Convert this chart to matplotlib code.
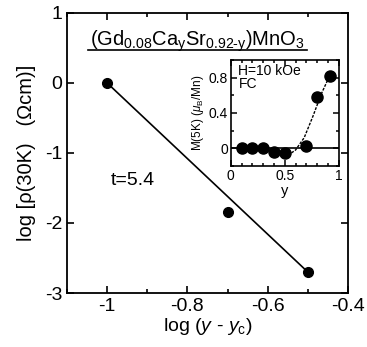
import numpy as np
import matplotlib.pyplot as plt
from matplotlib.ticker import MultipleLocator

plt.rcParams['font.family'] = ['Liberation Sans', 'DejaVu Sans']
plt.rcParams['mathtext.fontset'] = 'custom'
plt.rcParams['mathtext.rm'] = 'Liberation Sans'
plt.rcParams['mathtext.it'] = 'Liberation Sans:italic'

# main panel data
log_dy = [-1.0, -0.7, -0.5]
log_rho = [0.0, -1.85, -2.7]
t_exp = 5.4
fit_x = [-1.0, -0.5]

# inset data
y_conc = [0.1, 0.2, 0.3, 0.4, 0.5, 0.7, 0.8, 0.92]
m5k = [0.0, 0.0, 0.0, -0.04, -0.05, 0.03, 0.58, 0.82]
guide_x = [0.53, 0.6, 0.68, 0.76, 0.84, 0.93]
guide_y = [-0.08, -0.02, 0.12, 0.36, 0.62, 0.86]

fig = plt.figure(figsize=(3.67, 3.47), dpi=100)
ax = fig.add_axes([0.1826, 0.1556, 0.7654, 0.807])

fx = np.array(fit_x)
ax.plot(fx, log_rho[0] - t_exp * (fx - log_dy[0]), color='black', lw=1.2)
ax.plot(log_dy, log_rho, 'o', color='black', ms=7)

ax.set_xlim(-1.1, -0.4)
ax.set_ylim(-3, 1)
ax.xaxis.set_minor_locator(MultipleLocator(0.1))
ax.tick_params(which='both', direction='in', top=True, right=True, labelsize=14, width=1.2)
ax.tick_params(which='major', length=5)
ax.tick_params(which='minor', length=3)
ax.set_xticks([-1, -0.8, -0.6, -0.4])
ax.set_xticklabels(['-1', '-0.8', '-0.6', '-0.4'])
ax.set_yticks([-3, -2, -1, 0, 1])
ax.set_yticklabels(['-3', '-2', '-1', '0', '1'])
for s in ax.spines.values():
    s.set_linewidth(1.3)

ax.set_xlabel(r'log ($y$ - $y_{\rm c}$)', fontsize=14, labelpad=1)
ax.set_ylabel(r'log [ρ(30K)   (Ωcm)]', fontsize=14.5, labelpad=6)

ax.text(-0.775, 0.6, r'(Gd$_{0.08}$Ca$_{\rm y}$Sr$_{\rm 0.92\text{-}y}$)MnO$_3$', fontsize=14.5,
        ha='center', va='center')
ax.plot([-1.0475, -0.5025], [0.47, 0.47], color='black', lw=1.2)
ax.text(-0.99, -1.39, 't=5.4', fontsize=14, ha='left', va='center')

ins = fig.add_axes([0.629, 0.522, 0.294, 0.305])
ins.axhline(0, color='black', lw=1.2)
ins.plot(guide_x, guide_y, color='black', lw=1, ls=(0, (2, 1)))
ins.plot(y_conc, m5k, 'o', color='black', ms=8)
ins.set_xlim(0, 1)
ins.set_ylim(-0.2, 1.0)
ins.xaxis.set_minor_locator(MultipleLocator(0.1))
ins.yaxis.set_minor_locator(MultipleLocator(0.2))
ins.set_xticks([0, 0.5, 1])
ins.set_xticklabels(['0', '0.5', '1'])
ins.set_yticks([0, 0.4, 0.8])
ins.set_yticklabels(['0', '0.4', '0.8'])
ins.tick_params(which='both', direction='in', top=True, right=True, labelsize=10, width=1.1, pad=2)
ins.tick_params(which='major', length=4)
ins.tick_params(which='minor', length=2.5)
for s in ins.spines.values():
    s.set_linewidth(1.2)
ins.set_xlabel('y', fontsize=10.5, labelpad=1)
ins.set_ylabel(r'M(5K) ($\mu_{\rm B}$/Mn)', fontsize=8.5, labelpad=2)
ins.text(0.07, 0.8, 'H=10 kOe\nFC', fontsize=10, ha='left', va='center', linespacing=0.9)

fig.savefig('out.png', dpi=100)
